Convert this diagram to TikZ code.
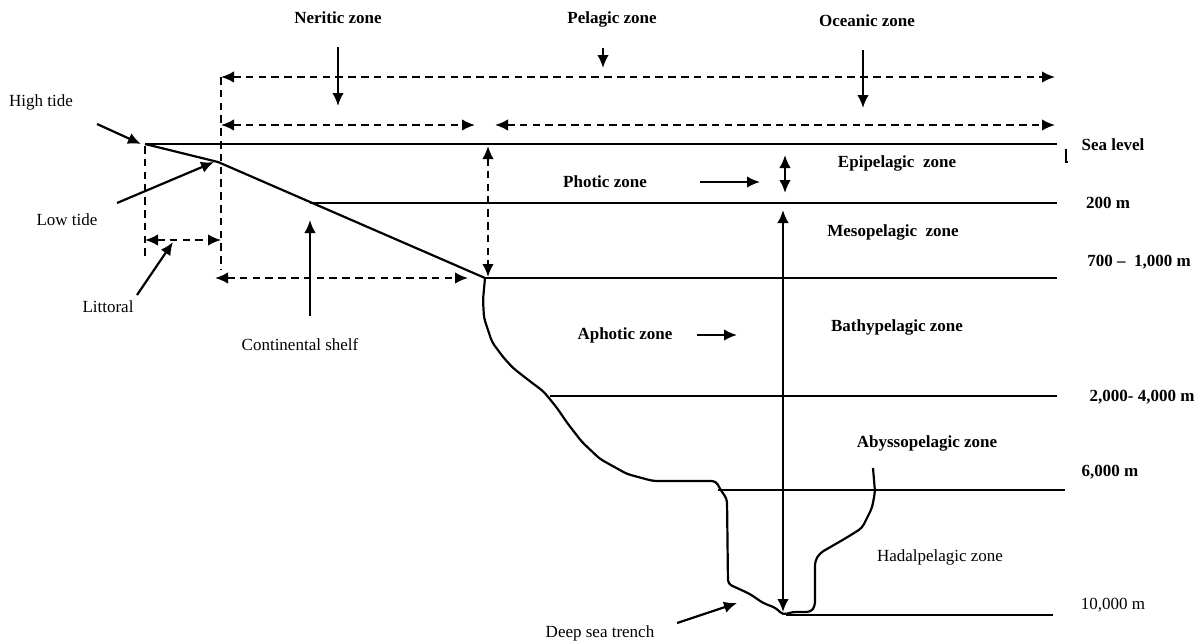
\documentclass[tikz,border=0pt]{standalone}
\usepackage{fontspec}
\setmainfont{Liberation Serif}
\usetikzlibrary{arrows.meta}

\begin{document}
\begin{tikzpicture}[x=0.5pt, y=-0.5pt, line width=1.1pt,
  >={Latex[length=6.5pt,width=5.8pt]},
  lbl/.style={font=\fontsize{8.5}{10}\selectfont\bfseries, inner sep=1pt},
  lblr/.style={font=\fontsize{8.5}{10}\selectfont, inner sep=1pt},
  zonedash/.style={dash pattern=on 3.8pt off 2.6pt},
  slope/.style={line width=1.1pt, line join=round, rounded corners=2pt}]
\useasboundingbox (0,0) rectangle (1204,643);

% coast points
\coordinate (ht) at (145,144);
\coordinate (lt) at (218,162);
\coordinate (sh) at (310,203);
\coordinate (br) at (485,278);
\coordinate (tr) at (783,615);

% sea level and depth lines
\draw (ht) -- (1057,144);
\foreach \xs/\xe/\y in {310/1057/203, 485/1057/278, 550/1057/396,
  718/1065/490, 786/1053/615}{
  \draw (\xs,\y) -- (\xe,\y);
}
\draw[line width=0.6pt] (1066,149) -- (1066,162) -- (1068,162);

% shelf and slope
\draw (ht) -- (lt) -- (br);
\draw[slope] (br) -- (483,300) -- (484,318) -- (492,342) -- (503,357)
  -- (513,368) -- (527,379) -- (543,391) -- (549,398) -- (557,408)
  -- (568,424) -- (582,442) -- (600,459) -- (627,474) -- (653,481)
  -- (716,481) -- (720,489) -- (727,499) -- (728,584) -- (737,588)
  -- (750,594) -- (763,603) -- (776,608) -- (tr) -- (792,612)
  -- (811,612) -- (815,606) -- (815,561) -- (820,553) -- (846,538)
  -- (862,528) -- (872,508) -- (875,492) -- (873,468);

% dashed zone limits
\draw[zonedash] (221,77) -- (221,270);
\draw[zonedash] (145,146) -- (145,260);
\draw[zonedash,<->] (221,77) -- (1055,77);
\draw[zonedash,<->] (221,125) -- (475,125);
\draw[zonedash,<->] (495,125) -- (1055,125);
\draw[zonedash,<->] (488,146) -- (488,277);
\draw[zonedash,<->] (215,278) -- (468,278);
\draw[zonedash,<->] (145,240) -- (221,240);

% labels
\node[lbl] (neritic) at (338,18) {Neritic zone};
\node[lbl] (pelagic) at (612,19) {Pelagic zone};
\node[lbl] (oceanic) at (867,21) {Oceanic zone};
\node[lblr] (hightide) at (41,102) {High tide};
\node[lblr] (lowtide) at (67,220) {Low tide};
\node[lblr] (littoral) at (108,307) {Littoral};
\node[lblr] (shelf) at (300,345) {Continental shelf};
\node[lblr] (trench) at (600,633) {Deep sea trench};
\node[lbl] (photic) at (605,182) {Photic zone};
\node[lbl] (aphotic) at (625,335) {Aphotic zone};
\node[lbl] (epi) at (897,163) {Epipelagic\ \ zone};
\node[lbl] (meso) at (893,232) {Mesopelagic\ \ zone};
\node[lbl] (bathy) at (897,327) {Bathypelagic zone};
\node[lbl] (abysso) at (927,443) {Abyssopelagic zone};
\node[lblr] (hadal) at (940,557) {Hadalpelagic zone};
\node[lbl] (sea) at (1113,145) {Sea level};
\node[lbl] (d200) at (1108,203) {200 m};
\node[lbl] (d700) at (1139,262) {700 -- \ 1,000 m};
\node[lbl] (d2000) at (1142,397) {2,000- 4,000 m};
\node[lbl] (d6000) at (1110,472) {6,000 m};
\node[lblr] (d10000) at (1113,605) {10,000 m};

% arrow ends
\coordinate (a1) at (97,124);
\coordinate (a2) at (117,203);
\coordinate (a3) at (137,295);
\coordinate (a4) at (173,242);
\coordinate (a5) at (310,316);
\coordinate (a6) at (310,220);
\coordinate (n1) at (338,47);
\coordinate (n2) at (338,106);
\coordinate (p1) at (603,48);
\coordinate (p2) at (603,68);
\coordinate (o1) at (863,50);
\coordinate (o2) at (863,108);
\coordinate (ph1) at (700,182);
\coordinate (ph2) at (760,182);
\coordinate (ap1) at (697,335);
\coordinate (ap2) at (737,335);
\coordinate (dt1) at (677,623);
\coordinate (dt2) at (737,603);

% pointers
\draw[->] (a1) -- ([xshift=-2pt]ht);
\draw[->] (a2) -- ([xshift=-2pt]lt);
\draw[->] (a3) -- (a4);
\draw[->] (a5) -- (a6);
\draw[->] (n1) -- (n2);
\draw[->] (p1) -- (p2);
\draw[->] (o1) -- (o2);
\draw[->] (ph1) -- (ph2);
\draw[->] (ap1) -- (ap2);
\draw[->] (dt1) -- (dt2);
\draw[<->] (785,155) -- (785,193);
\draw[<->] (783,210) -- ([yshift=1.5pt]tr);
\end{tikzpicture}
\end{document}
